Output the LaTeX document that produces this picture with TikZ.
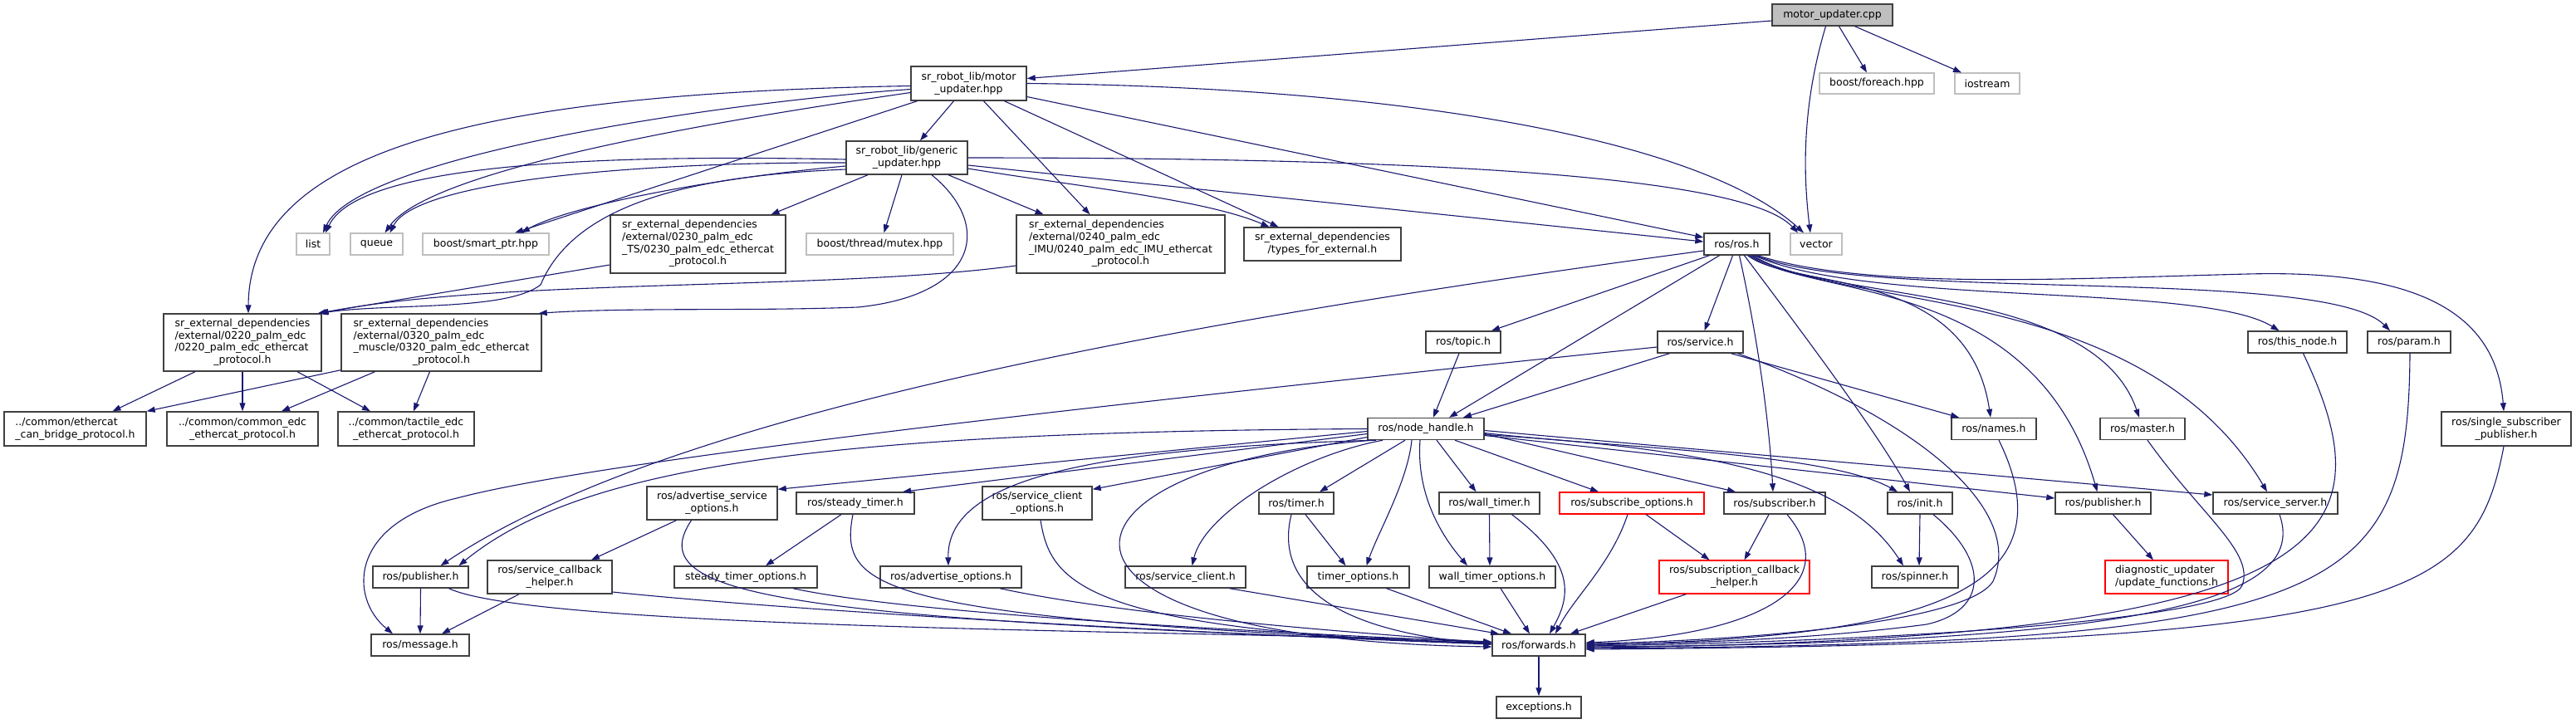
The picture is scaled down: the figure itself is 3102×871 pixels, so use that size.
\documentclass[tikz,border=0pt]{standalone}
\usepackage{fontspec}
\newfontfamily\dvs{DejaVu Sans}
\usetikzlibrary{arrows.meta}
\definecolor{edgec}{HTML}{191970}
\definecolor{boxb}{HTML}{404040}
\definecolor{ghostb}{HTML}{BFBFBF}
\definecolor{mainf}{HTML}{BFBFBF}
\newcommand{\lblfont}{\dvs\fontsize{12.5}{14.7}\selectfont}
\newcommand{\fourl}[4]{\begin{tabular}{@{}l@{}}#1\\#2\\#3\\\multicolumn{1}{@{}c@{}}{#4}\end{tabular}}
\tikzset{
  nb/.style={draw=boxb, line width=1.4pt, fill=white, inner sep=0pt, align=center, font=\lblfont, text=black},
  gb/.style={nb, draw=ghostb, line width=1.2pt},
  rb/.style={nb, draw=red, line width=1.2pt},
  mb/.style={nb, fill=mainf},
  e/.style={draw=edgec, line width=1.1pt, -{Triangle[length=10pt,width=7pt]}, fill=none}
}
\begin{document}
\begin{tikzpicture}[x=1pt,y=-1pt]
\useasboundingbox (0,0) rectangle (3102,871);
% ---------- nodes ----------
\node[mb, minimum width=145, minimum height=26] (MU) at (2206.5,18) {motor\_updater.cpp};
\node[nb, minimum width=139, minimum height=41] (MH) at (1166.5,100.5) {sr\_robot\_lib/motor\\\_updater.hpp};
\node[gb, minimum width=138, minimum height=25] (FE) at (2260,100.5) {boost/foreach.hpp};
\node[gb, minimum width=78, minimum height=25] (IO) at (2393,100.5) {iostream};
\node[nb, minimum width=146, minimum height=40] (GH) at (1092,190) {sr\_robot\_lib/generic\\\_updater.hpp};
\node[gb, minimum width=40, minimum height=26] (LI) at (377,294) {list};
\node[gb, minimum width=63, minimum height=26] (QU) at (453.5,294) {queue};
\node[gb, minimum width=152, minimum height=26] (SP) at (585,294) {boost/smart\_ptr.hpp};
\node[nb, minimum width=211, minimum height=70] (E230) at (840.5,294) {\fourl{sr\_external\_dependencies}{/external/0230\_palm\_edc}{\_TS/0230\_palm\_edc\_ethercat}{\_protocol.h}};
\node[gb, minimum width=177, minimum height=26] (BTM) at (1059.5,294) {boost/thread/mutex.hpp};
\node[nb, minimum width=251, minimum height=70] (E240) at (1349.5,294) {\fourl{sr\_external\_dependencies}{/external/0240\_palm\_edc}{\_IMU/0240\_palm\_edc\_IMU\_ethercat}{\_protocol.h}};
\node[nb, minimum width=189, minimum height=40] (TFE) at (1592.5,294) {sr\_external\_dependencies\\/types\_for\_external.h};
\node[nb, minimum width=79, minimum height=26] (ROS) at (2091.5,294) {ros/ros.h};
\node[gb, minimum width=62, minimum height=26] (VEC) at (2187,294) {vector};
\node[nb, minimum width=190, minimum height=69] (E220) at (292,412.5) {\fourl{sr\_external\_dependencies}{/external/0220\_palm\_edc}{/0220\_palm\_edc\_ethercat}{\_protocol.h}};
\node[nb, minimum width=241, minimum height=69] (E320) at (531.5,412.5) {\fourl{sr\_external\_dependencies}{/external/0320\_palm\_edc}{\_muscle/0320\_palm\_edc\_ethercat}{\_protocol.h}};
\node[nb, align=left, minimum width=171, minimum height=41] (CB) at (90.5,516.5) {../common/ethercat\\\_can\_bridge\_protocol.h};
\node[nb, minimum width=182, minimum height=41] (CE) at (292,516.5) {../common/common\_edc\\\_ethercat\_protocol.h};
\node[nb, minimum width=164, minimum height=41] (TE) at (489,516.5) {../common/tactile\_edc\\\_ethercat\_protocol.h};
\node[nb, minimum width=90, minimum height=26] (TOP) at (1762,412) {ros/topic.h};
\node[nb, minimum width=103, minimum height=26] (SRV) at (2047.5,412) {ros/service.h};
\node[nb, minimum width=119, minimum height=26] (TN) at (2766.5,412) {ros/this\_node.h};
\node[nb, minimum width=100, minimum height=26] (PAR) at (2901,412) {ros/param.h};
\node[nb, minimum width=140, minimum height=26] (NH) at (1717,516.5) {ros/node\_handle.h};
\node[nb, minimum width=102, minimum height=26] (NAM) at (2401,516.5) {ros/names.h};
\node[nb, minimum width=102, minimum height=26] (MAS) at (2580,516.5) {ros/master.h};
\node[nb, minimum width=156, minimum height=41] (SSP) at (3018,516.5) {ros/single\_subscriber\\\_publisher.h};
\node[nb, minimum width=157, minimum height=40] (ASO) at (857.5,606) {ros/advertise\_service\\\_options.h};
\node[nb, minimum width=142, minimum height=26] (ST) at (1030,606) {ros/steady\_timer.h};
\node[nb, minimum width=132, minimum height=40] (SCO) at (1249,606) {ros/service\_client\\\_options.h};
\node[nb, minimum width=90, minimum height=26] (TIM) at (1561,606) {ros/timer.h};
\node[nb, minimum width=121, minimum height=26] (WT) at (1793.5,606) {ros/wall\_timer.h};
\node[rb, minimum width=174, minimum height=26] (SO) at (1965,606) {ros/subscribe\_options.h};
\node[nb, minimum width=122, minimum height=26] (SUB) at (2137,606) {ros/subscriber.h};
\node[nb, minimum width=78, minimum height=26] (INI) at (2312,606) {ros/init.h};
\node[nb, minimum width=115, minimum height=26] (PUBR) at (2532.5,606) {ros/publisher.h};
\node[nb, minimum width=150, minimum height=26] (SS) at (2740,606) {ros/service\_server.h};
\node[nb, minimum width=115, minimum height=26] (PUBL) at (506.5,695) {ros/publisher.h};
\node[nb, minimum width=150, minimum height=40] (SCH) at (662,695) {ros/service\_callback\\\_helper.h};
\node[nb, minimum width=172, minimum height=26] (STO) at (898,695) {steady\_timer\_options.h};
\node[nb, minimum width=170, minimum height=26] (AO) at (1145,695) {ros/advertise\_options.h};
\node[nb, minimum width=145, minimum height=26] (SC) at (1427.5,695) {ros/service\_client.h};
\node[nb, minimum width=123, minimum height=26] (TO) at (1635.5,695) {timer\_options.h};
\node[nb, minimum width=152, minimum height=26] (WTO) at (1797,695) {wall\_timer\_options.h};
\node[rb, minimum width=181, minimum height=40] (SCBH) at (2088.5,695) {ros/subscription\_callback\\\_helper.h};
\node[nb, minimum width=104, minimum height=26] (SPN) at (2306,695) {ros/spinner.h};
\node[rb, align=left, minimum width=148, minimum height=40] (DU) at (2609,695) {diagnostic\_updater\\/update\_functions.h};
\node[nb, minimum width=118, minimum height=26] (MSG) at (506,777) {ros/message.h};
\node[nb, minimum width=112, minimum height=26] (FWD) at (1853,777) {ros/forwards.h};
\node[nb, minimum width=102, minimum height=26] (EXC) at (1853,852) {exceptions.h};
% ---------- edges ----------
% motor_updater.cpp
\draw[e] ([yshift=-7pt]MU.west) -- ([yshift=6pt]MH.east);
\draw[e] ([xshift=-8pt]MU.south) .. controls (2172,120) and (2170,200) .. ([xshift=-7pt]VEC.north);
\draw[e] ([xshift=8pt]MU.south) -- ([xshift=-12pt]FE.north);
\draw[e] ([xshift=27pt]MU.south) -- ([xshift=-31pt]IO.north);
% motor_updater.hpp
\draw[e] ([yshift=-3pt]MH.west) .. controls (600,112) and (300,175) .. ([xshift=7pt]E220.north);
\draw[e] ([yshift=-7pt]MH.west) .. controls (850,125) and (430,190) .. ([xshift=12pt]LI.north);
\draw[e] ([yshift=-11pt]MH.west) .. controls (900,140) and (520,200) .. ([xshift=10pt]QU.north);
\draw[e] ([xshift=-62pt]MH.south) -- ([xshift=35pt]SP.north);
\draw[e] ([xshift=-18pt]MH.south) -- ([xshift=16pt]GH.north);
\draw[e] ([xshift=18pt]MH.south) -- ([xshift=-37pt]E240.north);
\draw[e] ([xshift=43pt]MH.south) -- ([xshift=-53pt]TFE.north);
\draw[e] ([yshift=-16pt]MH.east) -- ([yshift=8pt]ROS.west);
\draw[e] (MH.east) .. controls (1700,105) and (2050,170) .. ([xshift=-15pt]VEC.north);
% generic_updater.hpp
\draw[e] ([yshift=-2pt]GH.west) .. controls (700,185) and (430,200) .. ([xshift=15pt]LI.north);
\draw[e] ([yshift=-6pt]GH.west) .. controls (750,195) and (500,220) .. ([xshift=16pt]QU.north);
\draw[e] ([yshift=-10pt]GH.west) .. controls (850,215) and (680,250) .. ([xshift=43pt]SP.north);
\draw[e] ([xshift=-47pt]GH.south) -- ([xshift=88pt]E230.north);
\draw[e] ([xshift=-6pt]GH.south) -- ([xshift=5pt]BTM.north);
\draw[e] ([xshift=50pt]GH.south) -- ([xshift=-93pt]E240.north);
\draw[e] ([yshift=-14pt]GH.west) .. controls (820,212) and (690,250) .. (651,343) .. controls (610,375) and (470,365) .. ([xshift=-3pt]E220.north east);
\draw[e] ([xshift=30pt]GH.south) .. controls (1195,270) and (1180,355) .. (1033,370) .. controls (900,375) and (760,370) .. ([xshift=-4pt]E320.north east);
\draw[e] ([yshift=-13pt]GH.east) .. controls (1300,225) and (1450,240) .. ([xshift=-64pt]TFE.north);
\draw[e] ([yshift=-9pt]GH.east) -- ([yshift=3pt]ROS.west);
\draw[e] (GH.east) .. controls (1700,190) and (2100,210) .. ([xshift=-22pt]VEC.north);
% external deps
\draw[e] ([yshift=-25pt]E230.west) -- ([xshift=-5pt]E220.north east);
\draw[e] ([yshift=-26pt]E240.west) .. controls (1000,350) and (600,335) .. ([xshift=-2pt]E220.north east);
\draw[e] ([xshift=-57pt]E220.south) -- ([xshift=45pt]CB.north);
\draw[e] (E220.south) -- (CE.north);
\draw[e] ([xshift=66pt]E220.south) -- ([xshift=-43pt]TE.north);
\draw[e] ([yshift=2pt]E320.south west) -- (CB.north east);
\draw[e] ([xshift=-80pt]E320.south) -- ([xshift=47pt]CE.north);
\draw[e] ([xshift=-14pt]E320.south) -- ([xshift=9pt]TE.north);
% ros.h
\draw[e] ([xshift=-33pt]ROS.south) -- ([xshift=34pt]TOP.north);
\draw[e] ([xshift=-21pt]ROS.south) -- ([xshift=28pt]NH.north);
\draw[e] ([xshift=-5pt]ROS.south) -- ([xshift=5pt]SRV.north);
\draw[e] ([xshift=3pt]ROS.south) .. controls (2115,400) and (2130,500) .. ([xshift=-2pt]SUB.north);
\draw[e] ([xshift=9pt]ROS.south) .. controls (2170,400) and (2260,520) .. ([xshift=-12pt]INI.north);
\draw[e] ([xshift=13pt]ROS.south) .. controls (2160,350) and (2370,320) .. ([xshift=-4pt]NAM.north);
\draw[e] ([xshift=15pt]ROS.south) .. controls (2180,360) and (2450,330) .. ([xshift=-7pt]PUBR.north);
\draw[e] ([xshift=17pt]ROS.south) .. controls (2200,365) and (2520,340) .. ([xshift=-4pt]MAS.north);
\draw[e] ([xshift=19pt]ROS.south) .. controls (2220,375) and (2580,340) .. ([xshift=-10pt]SS.north);
\draw[e] ([xshift=21pt]ROS.south) .. controls (2250,370) and (2650,340) .. ([xshift=-22pt]TN.north);
\draw[e] ([xshift=23pt]ROS.south) .. controls (2250,365) and (2800,320) .. ([xshift=-23pt]PAR.north);
\draw[e] ([xshift=25pt]ROS.south) .. controls (2250,350) and (2500,335) .. (2707,330) .. controls (2900,325) and (3005,370) .. ([xshift=-3pt]SSP.north);
\draw[e] ([yshift=-8pt]ROS.west) .. controls (1400,390) and (800,500) .. ([xshift=24pt]PUBL.north);
% service.h, topic.h
\draw[e] ([xshift=-37pt]SRV.south) -- ([xshift=45pt]NH.north);
\draw[e] ([xshift=37pt]SRV.south) -- ([xshift=-42pt]NAM.north);
\draw[e] ([xshift=45pt]SRV.south) .. controls (2300,500) and (2440,610) .. (2400,700) .. controls (2370,750) and (2100,772) .. ([yshift=2pt]FWD.east);
\draw[e] ([yshift=-6pt]SRV.west) .. controls (1200,500) and (700,560) .. (550,600) .. controls (420,630) and (420,720) .. ([xshift=-33pt]MSG.north);
\draw[e] ([xshift=-5pt]TOP.south) -- ([xshift=9pt]NH.north);
% node_handle.h
\draw[e] (NH.west) .. controls (1000,520) and (700,560) .. ([xshift=46pt]PUBL.north);
\draw[e] ([yshift=-3pt]NH.west) -- ([yshift=-4pt]ASO.north east);
\draw[e] ([yshift=-6pt]NH.west) -- ([xshift=57pt]ST.north);
\draw[e] ([yshift=-10pt]NH.west) -- ([yshift=-4pt]SCO.north east);
\draw[e] ([xshift=-60pt]NH.south) .. controls (1300,540) and (1140,580) .. ([xshift=-3pt]AO.north);
\draw[e] ([xshift=-52pt]NH.south) .. controls (1560,550) and (1450,620) .. ([xshift=8pt]SC.north);
\draw[e] ([xshift=-64pt]NH.south) .. controls (1250,560) and (1200,770) .. ([yshift=-2pt]FWD.west);
\draw[e] ([xshift=-25pt]NH.south) -- ([xshift=28pt]TIM.north);
\draw[e] ([xshift=-17pt]NH.south) .. controls (1695,580) and (1660,640) .. ([xshift=10pt]TO.north);
\draw[e] ([xshift=-7pt]NH.south) .. controls (1705,600) and (1740,650) .. ([xshift=-30pt]WTO.north);
\draw[e] ([xshift=13pt]NH.south) -- ([xshift=-16pt]WT.north);
\draw[e] ([xshift=35pt]NH.south) -- ([xshift=-40pt]SO.north);
\draw[e] ([yshift=-6pt]NH.east) -- ([xshift=-47pt]SUB.north);
\draw[e] ([yshift=-5pt]NH.east) .. controls (1950,540) and (2200,545) .. ([xshift=-27pt]INI.north);
\draw[e] ([yshift=-7pt]NH.east) .. controls (2050,540) and (2220,570) .. ([xshift=-14pt]SPN.north);
\draw[e] ([yshift=-8pt]NH.east) -- ([yshift=6pt]PUBR.west);
\draw[e] ([yshift=-2pt]NH.east) -- ([yshift=10pt]SS.west);
% lower level
\draw[e] (PUBL.south) -- (MSG.north);
\draw[e] ([xshift=34pt]PUBL.south) .. controls (650,760) and (1500,760) .. ([yshift=4pt]FWD.west);
\draw[e] ([xshift=-37pt]SCH.south) -- ([xshift=26pt]MSG.north);
\draw[e] ([yshift=-18pt]SCH.east) .. controls (1000,740) and (1500,765) .. ([yshift=1pt]FWD.west);
\draw[e] ([xshift=-43pt]ASO.south) -- ([xshift=50pt]SCH.north);
\draw[e] ([xshift=-25pt]ASO.south) .. controls (770,720) and (950,745) .. ([yshift=2pt]FWD.west);
\draw[e] ([xshift=-17pt]ST.south) -- ([xshift=24pt]STO.north);
\draw[e] ([xshift=-3pt]ST.south) .. controls (1010,710) and (1050,745) .. ([yshift=2pt]FWD.west);
\draw[e] ([xshift=57pt]STO.south) .. controls (1100,740) and (1500,760) .. ([yshift=3pt]FWD.west);
\draw[e] ([xshift=59pt]AO.south) .. controls (1350,740) and (1600,760) .. ([yshift=3pt]FWD.west);
\draw[e] ([xshift=4pt]SCO.south) .. controls (1265,700) and (1300,760) .. ([yshift=2pt]FWD.west);
\draw[e] ([xshift=53pt]SC.south) -- ([xshift=-48pt]FWD.north);
\draw[e] ([xshift=11pt]TIM.south) -- ([xshift=-15pt]TO.north);
\draw[e] ([xshift=-6pt]TIM.south) .. controls (1535,700) and (1600,760) .. ([yshift=1pt]FWD.west);
\draw[e] ([xshift=34pt]TO.south) -- ([xshift=-33pt]FWD.north);
\draw[e] (WT.south) -- ([xshift=-3pt]WTO.north);
\draw[e] ([xshift=27pt]WT.south) .. controls (1900,680) and (1890,720) .. ([xshift=13pt]FWD.north);
\draw[e] ([xshift=10pt]WTO.south) -- ([xshift=-11pt]FWD.north);
\draw[e] ([xshift=-5pt]SO.south) .. controls (1940,680) and (1895,720) .. ([xshift=20pt]FWD.north);
\draw[e] ([xshift=17pt]SO.south) -- ([xshift=-30pt]SCBH.north);
\draw[e] ([xshift=-7pt]SUB.south) -- ([xshift=12pt]SCBH.north);
\draw[e] ([xshift=15pt]SUB.south) .. controls (2220,700) and (2130,765) .. ([yshift=3pt]FWD.east);
\draw[e] ([xshift=-58pt]SCBH.south) -- ([xshift=38pt]FWD.north);
\draw[e] (INI.south) -- ([xshift=5pt]SPN.north);
\draw[e] ([xshift=16pt]INI.south) .. controls (2395,675) and (2395,735) .. (2320,752) .. controls (2200,768) and (2050,775) .. ([yshift=1pt]FWD.east);
\draw[e] ([xshift=6pt]NAM.south) .. controls (2500,720) and (2300,768) .. (FWD.east);
\draw[e] ([xshift=6pt]MAS.south) .. controls (2650,620) and (2715,665) .. (2700,705) .. controls (2685,745) and (2300,772) .. ([yshift=-1pt]FWD.east);
\draw[e] ([xshift=5pt]SS.south) .. controls (2780,720) and (2600,775) .. ([yshift=-2pt]FWD.east);
\draw[e] ([xshift=7pt]TN.south) .. controls (2880,650) and (2820,770) .. ([yshift=-3pt]FWD.east);
\draw[e] ([xshift=1pt]PAR.south) .. controls (2900,720) and (2820,775) .. ([yshift=-4pt]FWD.east);
\draw[e] ([xshift=-3pt]SSP.south) .. controls (2980,720) and (2900,775) .. ([yshift=-5pt]FWD.east);
\draw[e] ([xshift=12pt]PUBR.south) -- ([xshift=-16pt]DU.north);
\draw[e] (FWD.south) -- (EXC.north);
\end{tikzpicture}
\end{document}
